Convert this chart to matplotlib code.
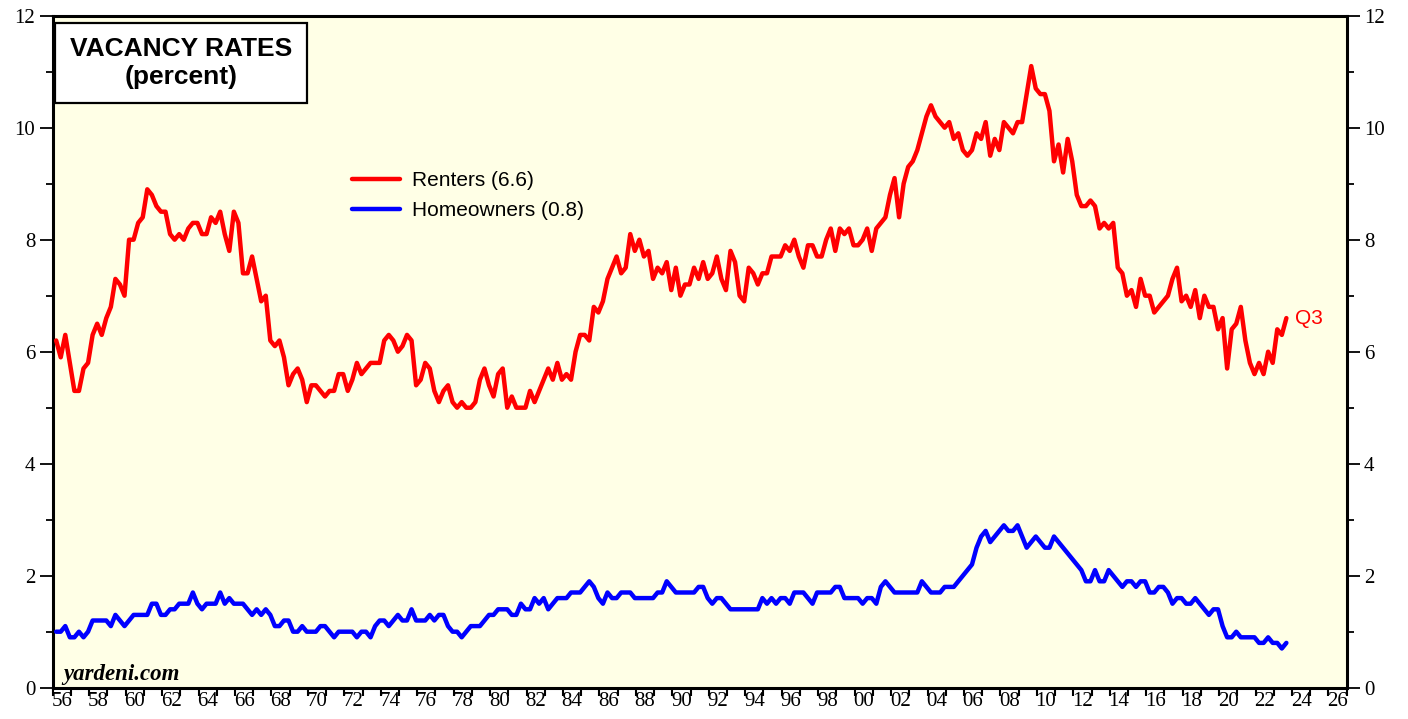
import matplotlib
matplotlib.use("Agg")
import matplotlib.pyplot as plt
from matplotlib.patches import Rectangle
from matplotlib.ticker import FixedLocator, FixedFormatter, NullFormatter

# ---------------- data (quarterly, 1956Q1 - 2023Q3) ----------------
first_year = 1956
renters = [
    6.2, 5.9, 6.3, 5.8,  5.3, 5.3, 5.7, 5.8,  6.3, 6.5, 6.3, 6.6,  6.8, 7.3, 7.2, 7.0,   # 56-59
    8.0, 8.0, 8.3, 8.4,  8.9, 8.8, 8.6, 8.5,  8.5, 8.1, 8.0, 8.1,  8.0, 8.2, 8.3, 8.3,   # 60-63
    8.1, 8.1, 8.4, 8.3,  8.5, 8.1, 7.8, 8.5,  8.3, 7.4, 7.4, 7.7,  7.3, 6.9, 7.0, 6.2,   # 64-67
    6.1, 6.2, 5.9, 5.4,  5.6, 5.7, 5.5, 5.1,  5.4, 5.4, 5.3, 5.2,  5.3, 5.3, 5.6, 5.6,   # 68-71
    5.3, 5.5, 5.8, 5.6,  5.7, 5.8, 5.8, 5.8,  6.2, 6.3, 6.2, 6.0,  6.1, 6.3, 6.2, 5.4,   # 72-75
    5.5, 5.8, 5.7, 5.3,  5.1, 5.3, 5.4, 5.1,  5.0, 5.1, 5.0, 5.0,  5.1, 5.5, 5.7, 5.4,   # 76-79
    5.2, 5.6, 5.7, 5.0,  5.2, 5.0, 5.0, 5.0,  5.3, 5.1, 5.3, 5.5,  5.7, 5.5, 5.8, 5.5,   # 80-83
    5.6, 5.5, 6.0, 6.3,  6.3, 6.2, 6.8, 6.7,  6.9, 7.3, 7.5, 7.7,  7.4, 7.5, 8.1, 7.8,   # 84-87
    8.0, 7.7, 7.8, 7.3,  7.5, 7.4, 7.6, 7.1,  7.5, 7.0, 7.2, 7.2,  7.5, 7.3, 7.6, 7.3,   # 88-91
    7.4, 7.7, 7.3, 7.1,  7.8, 7.6, 7.0, 6.9,  7.5, 7.4, 7.2, 7.4,  7.4, 7.7, 7.7, 7.7,   # 92-95
    7.9, 7.8, 8.0, 7.7,  7.5, 7.9, 7.9, 7.7,  7.7, 8.0, 8.2, 7.8,  8.2, 8.1, 8.2, 7.9,   # 96-99
    7.9, 8.0, 8.2, 7.8,  8.2, 8.3, 8.4, 8.8,  9.1, 8.4, 9.0, 9.3,  9.4, 9.6, 9.9, 10.2,  # 00-03
    10.4, 10.2, 10.1, 10.0,  10.1, 9.8, 9.9, 9.6,  9.5, 9.6, 9.9, 9.8,  10.1, 9.5, 9.8, 9.6,  # 04-07
    10.1, 10.0, 9.9, 10.1,  10.1, 10.6, 11.1, 10.7,  10.6, 10.6, 10.3, 9.4,  9.7, 9.2, 9.8, 9.4,  # 08-11
    8.8, 8.6, 8.6, 8.7,  8.6, 8.2, 8.3, 8.2,  8.3, 7.5, 7.4, 7.0,  7.1, 6.8, 7.3, 7.0,   # 12-15
    7.0, 6.7, 6.8, 6.9,  7.0, 7.3, 7.5, 6.9,  7.0, 6.8, 7.1, 6.6,  7.0, 6.8, 6.8, 6.4,   # 16-19
    6.6, 5.7, 6.4, 6.5,  6.8, 6.2, 5.8, 5.6,  5.8, 5.6, 6.0, 5.8,  6.4, 6.3, 6.6,        # 20-23
]
homeowners = [
    1.0, 1.0, 1.1, 0.9,  0.9, 1.0, 0.9, 1.0,  1.2, 1.2, 1.2, 1.2,  1.1, 1.3, 1.2, 1.1,   # 56-59
    1.2, 1.3, 1.3, 1.3,  1.3, 1.5, 1.5, 1.3,  1.3, 1.4, 1.4, 1.5,  1.5, 1.5, 1.7, 1.5,   # 60-63
    1.4, 1.5, 1.5, 1.5,  1.7, 1.5, 1.6, 1.5,  1.5, 1.5, 1.4, 1.3,  1.4, 1.3, 1.4, 1.3,   # 64-67
    1.1, 1.1, 1.2, 1.2,  1.0, 1.0, 1.1, 1.0,  1.0, 1.0, 1.1, 1.1,  1.0, 0.9, 1.0, 1.0,   # 68-71
    1.0, 1.0, 0.9, 1.0,  1.0, 0.9, 1.1, 1.2,  1.2, 1.1, 1.2, 1.3,  1.2, 1.2, 1.4, 1.2,   # 72-75
    1.2, 1.2, 1.3, 1.2,  1.3, 1.3, 1.1, 1.0,  1.0, 0.9, 1.0, 1.1,  1.1, 1.1, 1.2, 1.3,   # 76-79
    1.3, 1.4, 1.4, 1.4,  1.3, 1.3, 1.5, 1.4,  1.4, 1.6, 1.5, 1.6,  1.4, 1.5, 1.6, 1.6,   # 80-83
    1.6, 1.7, 1.7, 1.7,  1.8, 1.9, 1.8, 1.6,  1.5, 1.7, 1.6, 1.6,  1.7, 1.7, 1.7, 1.6,   # 84-87
    1.6, 1.6, 1.6, 1.6,  1.7, 1.7, 1.9, 1.8,  1.7, 1.7, 1.7, 1.7,  1.7, 1.8, 1.8, 1.6,   # 88-91
    1.5, 1.6, 1.6, 1.5,  1.4, 1.4, 1.4, 1.4,  1.4, 1.4, 1.4, 1.6,  1.5, 1.6, 1.5, 1.6,   # 92-95
    1.6, 1.5, 1.7, 1.7,  1.7, 1.6, 1.5, 1.7,  1.7, 1.7, 1.7, 1.8,  1.8, 1.6, 1.6, 1.6,   # 96-99
    1.6, 1.5, 1.6, 1.6,  1.5, 1.8, 1.9, 1.8,  1.7, 1.7, 1.7, 1.7,  1.7, 1.7, 1.9, 1.8,   # 00-03
    1.7, 1.7, 1.7, 1.8,  1.8, 1.8, 1.9, 2.0,  2.1, 2.2, 2.5, 2.7,  2.8, 2.6, 2.7, 2.8,   # 04-07
    2.9, 2.8, 2.8, 2.9,  2.7, 2.5, 2.6, 2.7,  2.6, 2.5, 2.5, 2.7,  2.6, 2.5, 2.4, 2.3,   # 08-11
    2.2, 2.1, 1.9, 1.9,  2.1, 1.9, 1.9, 2.1,  2.0, 1.9, 1.8, 1.9,  1.9, 1.8, 1.9, 1.9,   # 12-15
    1.7, 1.7, 1.8, 1.8,  1.7, 1.5, 1.6, 1.6,  1.5, 1.5, 1.6, 1.5,  1.4, 1.3, 1.4, 1.4,   # 16-19
    1.1, 0.9, 0.9, 1.0,  0.9, 0.9, 0.9, 0.9,  0.8, 0.8, 0.9, 0.8,  0.8, 0.7, 0.8,        # 20-23
]
series_labels = ["Renters (6.6)", "Homeowners (0.8)"]
last_quarter_label = "Q3"
title_lines = ["VACANCY RATES", "(percent)"]
source_text = "yardeni.com"
x_start, x_end = 1956, 2027
y_major = [0, 2, 4, 6, 8, 10, 12]
y_minor = [1, 3, 5, 7, 9, 11]

dates = [first_year + i * 0.25 + 0.19 for i in range(len(renters))]

RED = "#FF0000"
BLUE = "#0000FF"
BG = "#FFFFE6"
SERIF = "Liberation Serif"
SANS = "Liberation Sans"

W, H = 1408, 719
fig = plt.figure(figsize=(W / 100, H / 100), dpi=100)
fig.patch.set_facecolor("white")

x0, x1 = 52.7, 1346.7
y_top, y_bot = 15.7, 687.7
ax = fig.add_axes([x0 / W, 1 - y_bot / H, (x1 - x0) / W, (y_bot - y_top) / H])
ax.set_facecolor(BG)

l1, = ax.plot(dates, renters, color=RED, lw=3.2, solid_joinstyle="round",
              solid_capstyle="round", label=series_labels[0], zorder=3)
l2, = ax.plot(dates, homeowners, color=BLUE, lw=3.2, solid_joinstyle="round",
              solid_capstyle="round", label=series_labels[1], zorder=3)

ax.set_xlim(x_start, x_end)
ax.set_ylim(y_major[0], y_major[-1])

# y axis ticks both sides
ax.yaxis.set_major_locator(FixedLocator(y_major))
ax.yaxis.set_minor_locator(FixedLocator(y_minor))
ax.yaxis.set_major_formatter(FixedFormatter([str(v) for v in y_major]))
ax.tick_params(axis="y", which="both", direction="out", left=True, right=True,
               labelleft=True, labelright=True, width=1.3, colors="black")
ax.tick_params(axis="y", which="major", length=9.5, pad=3, labelsize=15,
               labelfontfamily=SERIF)
ax.tick_params(axis="y", which="minor", length=5)

# x axis: ticks at each year boundary, labels centred on even years
year_ticks = list(range(x_start, x_end + 1))
label_years = list(range(x_start, x_end, 2))
ax.xaxis.set_major_locator(FixedLocator(year_ticks))
ax.xaxis.set_major_formatter(NullFormatter())
ax.xaxis.set_minor_locator(FixedLocator([y + 0.5 for y in label_years]))
ax.xaxis.set_minor_formatter(FixedFormatter([f"{y % 100:02d}" for y in label_years]))
ax.tick_params(axis="x", which="major", direction="out", length=6, width=1.5)
ax.tick_params(axis="x", which="minor", length=0, pad=3, labelsize=15,
               labelfontfamily=SERIF)

for s in ax.spines.values():
    s.set_linewidth(2.2)
    s.set_color("black")

# legend
leg = ax.legend(handles=[l1, l2], loc="upper left",
                bbox_to_anchor=(352 / W, 1 - 171 / H), bbox_transform=fig.transFigure,
                frameon=False, borderpad=0, borderaxespad=0, handlelength=2.3,
                handletextpad=0.58, labelspacing=0.55,
                prop={"family": SANS, "size": 15})

# last value marker text
ax.text(dates[-1] + 0.5, renters[-1], last_quarter_label, color=RED,
        fontsize=15, family=SANS, va="center", ha="left")

# title box
fig.patches.append(Rectangle((55 / W, 1 - 103 / H), 252 / W, 80 / H,
                             transform=fig.transFigure, facecolor="white",
                             edgecolor="black", lw=1.6, zorder=5))
fig.text(181 / W, 1 - 49 / H, title_lines[0], ha="center", va="center",
         fontsize=19, fontweight="bold", family=SANS, zorder=6)
fig.text(181 / W, 1 - 77 / H, title_lines[1], ha="center", va="center",
         fontsize=19, fontweight="bold", family=SANS, zorder=6)

# source
fig.text(63 / W, 1 - 680 / H, source_text, ha="left", va="baseline",
         fontsize=16.5, fontweight="bold", fontstyle="italic",
         family=SERIF, zorder=6)

fig.savefig("out.png", dpi=100, facecolor="white")
